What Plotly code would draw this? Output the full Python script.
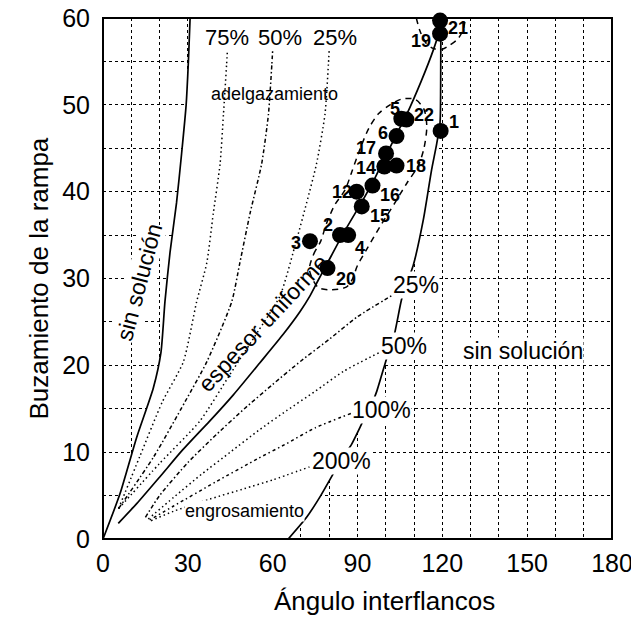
import plotly.graph_objects as go

# ---------------- data ----------------
point_ids = ["1", "2", "3", "4", "5", "6", "12", "14", "15", "16", "17", "18", "19", "20", "21", "22"]
point_angle = [119.4, 83.8, 73.2, 86.7, 105.5, 103.8, 89.7, 99.5, 91.5, 95.3, 100.1, 103.8, 119.2, 79.4, 119.2, 107.3]
point_dip = [47.0, 35.0, 34.3, 35.0, 48.4, 46.4, 40.0, 42.9, 38.3, 40.7, 44.4, 43.0, 58.2, 31.2, 59.7, 48.3]

# left boundary (sin solucion)
left_x = [0, 6, 11.9, 17.8, 20.5, 21.9, 23.7, 26.0, 27.8, 29.4, 30.2, 30.8]
left_y = [0, 5.2, 11.7, 17.4, 21.5, 27.3, 33.0, 38.7, 44.4, 50.0, 55.0, 60.0]

# right boundary (sin solucion)
right_x = [65.5, 72.0, 77.0, 81.4, 84.5, 87.9, 92.0, 95.0, 96.8, 100.3, 103.0, 105.6, 107.5, 109.7, 113.3, 116.2, 118.0, 119.2, 119.4, 119.5]
right_y = [0.0, 2.5, 5.0, 7.5, 9.3, 10.9, 13.6, 15.5, 17.0, 20.8, 23.5, 27.6, 29.5, 31.5, 36.8, 42.5, 45.5, 48.0, 52.0, 60.0]

# espesor uniforme
unif_x = [5.4, 12.0, 20.2, 28.0, 34.3, 37.8, 46.1, 55.5, 63.8, 69.7, 73.2, 76.1, 79.4, 85.0, 91.5, 95.3, 99.5, 103.8, 107.4, 112.5, 116.8, 118.9, 119.5]
unif_y = [1.8, 4.1, 7.2, 10.2, 12.4, 13.6, 16.6, 20.3, 23.6, 26.2, 28.0, 29.8, 31.8, 35.2, 38.8, 41.0, 43.8, 46.6, 48.9, 52.7, 56.3, 58.5, 60.0]

# adelgazamiento curves
thin75_x = [5.5, 13.0, 21.0, 28.4, 33.1, 36.7, 39.0, 41.4, 42.6, 43.7, 44.0]
thin75_y = [3.5, 9.5, 15.8, 20.4, 27.3, 31.8, 37.5, 43.2, 48.9, 54.6, 56.3]
thin50_x = [5.5, 18.0, 29.0, 36.7, 45.5, 48.4, 52.0, 56.1, 58.5, 59.7, 60.0]
thin50_y = [3.5, 9.5, 15.8, 20.4, 27.3, 31.8, 37.5, 43.2, 48.9, 54.6, 56.3]
thin25_x = [5.5, 20.0, 34.3, 45.0, 55.0, 62.6, 68.5, 72.0, 75.5, 78.5, 79.7, 80.0]
thin25_y = [3.5, 8.7, 13.6, 19.0, 24.0, 28.0, 34.5, 38.7, 43.2, 48.9, 54.6, 56.3]

# engrosamiento curves
thick25_x = [15.0, 20.0, 30.0, 40.0, 50.0, 60.0, 70.0, 80.0, 90.0, 104.0]
thick25_y = [2.5, 5.0, 8.8, 12.0, 15.0, 17.8, 20.5, 23.0, 25.6, 28.4]
thick50_x = [16.0, 25.0, 35.0, 45.0, 55.0, 65.0, 75.0, 85.0, 98.5]
thick50_y = [2.3, 4.8, 7.5, 10.0, 12.5, 14.8, 17.0, 19.3, 21.6]
thick100_x = [16.5, 25.0, 40.0, 55.0, 65.0, 75.0, 88.0]
thick100_y = [2.2, 3.8, 6.6, 9.3, 11.0, 12.8, 14.5]
thick200_x = [17.0, 25.0, 37.8, 50.0, 60.0, 73.0]
thick200_y = [2.1, 3.2, 4.6, 5.8, 6.8, 8.3]

# dashed envelopes
env_x = [73.0, 74.5, 77.0, 79.0, 82.0, 85.6, 88.0, 91.0, 94.0, 97.5, 101.5, 106.0, 110.5, 113.5, 114.5, 113.5, 111.5, 107.5, 103.0, 98.0, 93.5, 90.0, 88.0, 86.0, 80.0, 76.0, 73.0]
env_y = [31.0, 32.8, 34.3, 36.3, 38.5, 40.2, 42.3, 45.0, 47.3, 49.0, 50.0, 50.7, 50.6, 49.5, 47.5, 45.0, 43.0, 41.0, 38.6, 36.0, 33.5, 31.5, 29.8, 29.0, 28.7, 29.0, 31.0]
env2_x = [110.8, 112.0, 114.0, 116.7, 120.0, 122.7, 125.5, 127.3, 128.2]
env2_y = [60.0, 58.6, 57.2, 56.5, 56.4, 56.9, 57.6, 58.6, 60.0]

# ---------------- styles ----------------
FONT = "Arial, 'Liberation Sans', sans-serif"
label_offsets = {
    "1": (13, 9), "2": (-12, 10), "3": (-14, -2), "4": (12, -13), "5": (-6, 10),
    "6": (-14, 3), "12": (-15, 0), "14": (-18, -2), "15": (18, -10), "16": (18, -9),
    "17": (-20, 5), "18": (19, 0), "19": (-19, -7), "20": (18, -11), "21": (18, -7),
    "22": (18, 5),
}

fig = go.Figure()

# white mask between boundaries (hides grid in the solution field)
fig.add_trace(go.Scatter(x=left_x + right_x[::-1], y=left_y + right_y[::-1], fill="toself",
                         fillcolor="white", mode="none", hoverinfo="skip", showlegend=False))

def line(xs, ys, dash="solid", width=1.4):
    fig.add_trace(go.Scatter(x=xs, y=ys, mode="lines", line=dict(color="black", width=width, dash=dash,
                             shape="spline", smoothing=0.6), hoverinfo="skip", showlegend=False))

line(left_x, left_y, width=1.7)
line(right_x, right_y, width=1.7)
line(unif_x, unif_y, width=1.7)
line(thin75_x, thin75_y, dash="1.5px,3px", width=1.5)
line(thin50_x, thin50_y, dash="4px,2.5px,1.5px,2.5px", width=1.5)
line(thin25_x, thin25_y, dash="1.5px,3px", width=1.5)
line(thick25_x, thick25_y, dash="4px,2.5px,1.5px,2.5px", width=1.5)
line(thick50_x, thick50_y, dash="1.5px,3px", width=1.5)
line(thick100_x, thick100_y, dash="1.5px,3px,3px,3px", width=1.5)
line(thick200_x, thick200_y, dash="1.5px,3px", width=1.5)

fig.add_trace(go.Scatter(x=env_x, y=env_y, mode="lines", line=dict(color="black", width=1.5, dash="6px,5px",
                         shape="spline", smoothing=0.8), hoverinfo="skip", showlegend=False))
fig.add_trace(go.Scatter(x=env2_x, y=env2_y, mode="lines", line=dict(color="black", width=1.5, dash="6px,5px",
                         shape="spline", smoothing=0.8), hoverinfo="skip", showlegend=False))

fig.add_trace(go.Scatter(x=point_angle, y=point_dip, mode="markers", marker=dict(color="black", size=16),
                         cliponaxis=False, hoverinfo="skip", showlegend=False))

annotations = []
for pid, px, py in zip(point_ids, point_angle, point_dip):
    dx, dy = label_offsets[pid]
    annotations.append(dict(x=px, y=py, xshift=dx, yshift=dy, text="<b>%s</b>" % pid, showarrow=False,
                            font=dict(family=FONT, size=18, color="black")))

def txt(x, y, s, size=22, angle=0, bg=None):
    d = dict(x=x, y=y, text=s, showarrow=False, textangle=angle,
             font=dict(family=FONT, size=size, color="black"))
    if bg:
        d["bgcolor"] = bg
        d["borderpad"] = 0
    annotations.append(d)

txt(43.7, 57.7, "75%")
txt(62.6, 57.7, "50%")
txt(82.0, 57.7, "25%")
txt(60.8, 51.3, "adelgazamiento", size=18)
txt(50.1, 3.2, "engrosamiento", size=18, bg="white")
txt(110.7, 29.3, "25%", size=23, bg="white")
txt(106.3, 22.2, "50%", size=23, bg="white")
txt(98.5, 14.85, "100%", size=23, bg="white")
txt(84.4, 9.0, "200%", size=23, bg="white")
txt(148.6, 21.6, "sin solución", size=23, bg="white")
txt(12.8, 29.6, "sin solución", size=23, angle=-75, bg="white")
txt(56.6, 24.9, "espesor uniforme", size=23, angle=-47)

# axis titles
annotations.append(dict(xref="paper", yref="paper", x=0.554, y=-0.1198, xanchor="center", yanchor="middle",
                        text="Ángulo interflancos", showarrow=False,
                        font=dict(family=FONT, size=26, color="black")))
annotations.append(dict(xref="paper", yref="paper", x=-0.1277, y=0.5, xanchor="center", yanchor="middle",
                        text="Buzamiento de la rampa", showarrow=False, textangle=-90,
                        font=dict(family=FONT, size=26, color="black")))

grid_style = dict(gridcolor="black", gridwidth=1, griddash="dot")

fig.update_layout(
    width=639, height=622,
    # the page is drawn with an 8px offset, so margins compensate for it
    margin=dict(l=95, r=35, t=10, b=91),
    paper_bgcolor="white", plot_bgcolor="white",
    annotations=annotations,
    shapes=[dict(type="rect", xref="paper", yref="paper", x0=0, x1=1, y0=0, y1=1,
                 line=dict(color="black", width=2), layer="above")],
    xaxis=dict(range=[0, 180], tickvals=[0, 30, 60, 90, 120, 150, 180], showgrid=True, **grid_style,
               minor=dict(dtick=10, showgrid=True, **grid_style),
               showline=False, zeroline=False,
               ticks="", ticklabelstandoff=7, automargin=False, ticklabeloverflow="allow",
               tickfont=dict(family=FONT, size=25, color="black")),
    yaxis=dict(range=[0, 60], tickvals=[0, 10, 20, 30, 40, 50, 60], showgrid=True, **grid_style,
               minor=dict(dtick=5, showgrid=True, **grid_style),
               showline=False, zeroline=False,
               ticks="", ticklabelstandoff=12, automargin=False, ticklabeloverflow="allow",
               tickfont=dict(family=FONT, size=25, color="black")),
)

fig.write_html("out.html")
